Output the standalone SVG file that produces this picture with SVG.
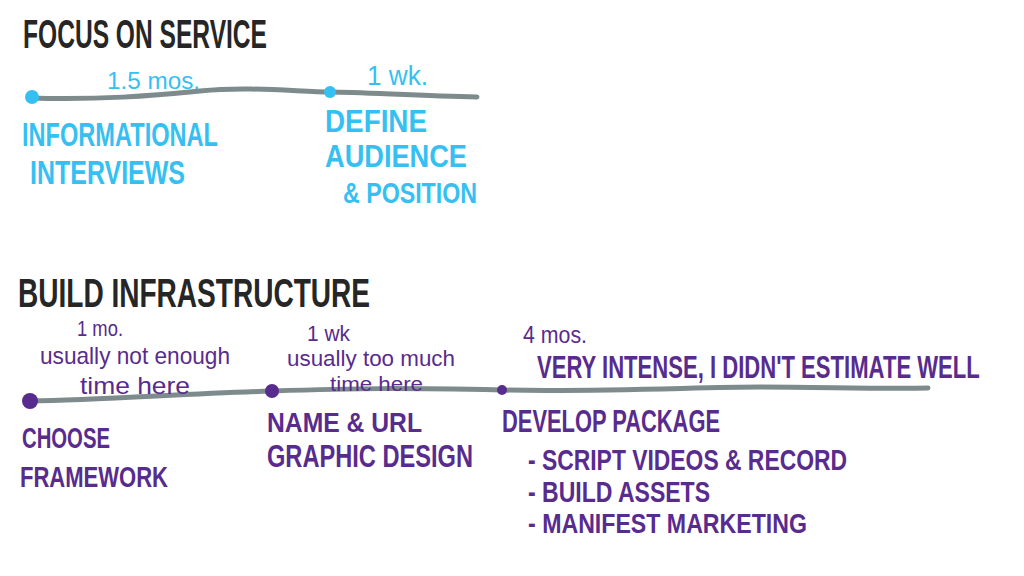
<svg xmlns="http://www.w3.org/2000/svg" width="1024" height="576" viewBox="0 0 1024 576">
<style>
text{font-family:"Liberation Sans","DejaVu Sans",sans-serif;font-weight:bold;}
.title{fill:#262626;font-size:40px;}
.blue{fill:#36c0f2;}
.purple{fill:#582b8e;}
.line{fill:none;stroke:#7e8b8c;stroke-width:5;stroke-linecap:round;stroke-linejoin:round;}
.note{font-weight:normal;}
</style>
<rect width="1024" height="576" fill="#ffffff"/>
<g id="title-focus"><text class="title" x="23" y="48" font-size="42" textLength="244" lengthAdjust="spacingAndGlyphs">FOCUS ON SERVICE</text></g>
<g id="title-build"><text class="title" x="18" y="307" textLength="352" lengthAdjust="spacingAndGlyphs">BUILD INFRASTRUCTURE</text></g>
<g id="connectors">
<path class="line" d="M30 98 C 100 100, 150 96, 200 91 S 300 92, 330 92 S 420 96, 477 97"/>
<path class="line" d="M30 401 C 100 400, 180 394, 272 391 S 400 388, 502 390 S 700 387, 760 387 S 880 389, 928 388"/>
</g>
<g id="dur-1" class="blue"><text class="note" x="107" y="89" font-size="24" textLength="93" lengthAdjust="spacingAndGlyphs">1.5 mos.</text></g>
<g id="dur-2" class="blue"><text class="note" x="367" y="85" font-size="28" textLength="61" lengthAdjust="spacingAndGlyphs">1 wk.</text></g>
<g id="node-informational" class="blue">
<circle cx="32" cy="97" r="7"/>
<text x="22" y="146" font-size="34" textLength="196" lengthAdjust="spacingAndGlyphs">INFORMATIONAL</text>
<text x="30" y="184" font-size="34" textLength="155" lengthAdjust="spacingAndGlyphs">INTERVIEWS</text>
</g>
<g id="node-define" class="blue">
<circle cx="330" cy="92" r="6"/>
<text x="325" y="132" font-size="31" textLength="102" lengthAdjust="spacingAndGlyphs">DEFINE</text>
<text x="325" y="167" font-size="31" textLength="142" lengthAdjust="spacingAndGlyphs">AUDIENCE</text>
<text x="343" y="203" font-size="30" textLength="134" lengthAdjust="spacingAndGlyphs">&amp; POSITION</text>
</g>
<g id="dur-3" class="purple">
<text class="note" x="77" y="336" font-size="22" textLength="46" lengthAdjust="spacingAndGlyphs">1 mo.</text>
<text class="note" x="40" y="364" font-size="24" textLength="190" lengthAdjust="spacingAndGlyphs">usually not enough</text>
<text class="note" x="80" y="394" font-size="24" textLength="110" lengthAdjust="spacingAndGlyphs">time here</text>
</g>
<g id="dur-4" class="purple">
<text class="note" x="307" y="341" font-size="22" textLength="43" lengthAdjust="spacingAndGlyphs">1 wk</text>
<text class="note" x="287" y="366" font-size="22" textLength="168" lengthAdjust="spacingAndGlyphs">usually too much</text>
<text class="note" x="330" y="391" font-size="21" textLength="93" lengthAdjust="spacingAndGlyphs">time here</text>
</g>
<g id="dur-5" class="purple">
<text class="note" x="523" y="343" font-size="24" textLength="64" lengthAdjust="spacingAndGlyphs">4 mos.</text>
<text transform="translate(537 378) scale(0.7125 1)" x="0" y="0" font-size="31">VERY INTENSE, I DIDN'T ESTIMATE WELL</text>
</g>
<g id="node-framework" class="purple">
<circle cx="30" cy="401" r="8"/>
<text x="22" y="448" font-size="29" textLength="88" lengthAdjust="spacingAndGlyphs">CHOOSE</text>
<text x="20" y="487" font-size="29" textLength="148" lengthAdjust="spacingAndGlyphs">FRAMEWORK</text>
</g>
<g id="node-name" class="purple">
<circle cx="272" cy="391" r="7"/>
<text x="267" y="432" font-size="28" textLength="155" lengthAdjust="spacingAndGlyphs">NAME &amp; URL</text>
<text x="267" y="467" font-size="31" textLength="206" lengthAdjust="spacingAndGlyphs">GRAPHIC DESIGN</text>
</g>
<g id="node-develop" class="purple">
<circle cx="502" cy="390" r="5"/>
<text x="502" y="432" font-size="31" textLength="218" lengthAdjust="spacingAndGlyphs">DEVELOP PACKAGE</text>
<text x="528" y="470" font-size="30" textLength="319" lengthAdjust="spacingAndGlyphs">- SCRIPT VIDEOS &amp; RECORD</text>
<text x="528" y="502" font-size="30" textLength="182" lengthAdjust="spacingAndGlyphs">- BUILD ASSETS</text>
<text x="528" y="533" font-size="28" textLength="279" lengthAdjust="spacingAndGlyphs">- MANIFEST MARKETING</text>
</g>
</svg>
